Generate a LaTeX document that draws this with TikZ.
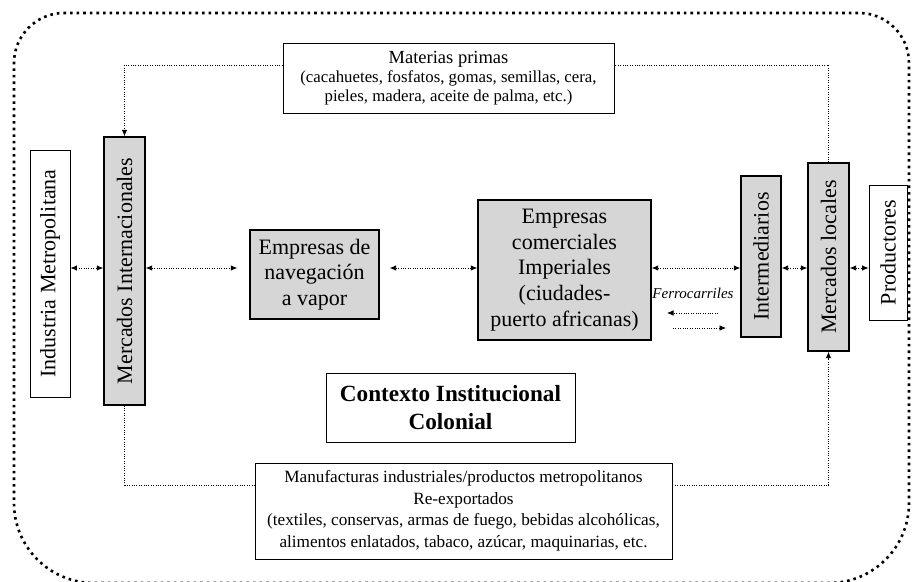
\documentclass[tikz,border=0pt]{standalone}
\usepackage{fontspec}
\setmainfont{Liberation Serif}
\usepackage{graphicx}
\usetikzlibrary{arrows.meta}
\definecolor{boxgray}{RGB}{214,214,214}

\begin{document}
\begin{tikzpicture}[x=1pt,y=-1pt,>={Latex[length=6.5pt,width=5.5pt]},
                    gray node/.style={draw,line width=1.3pt,fill=boxgray,align=center,inner sep=0pt,
                                      font=\fontsize{22}{25.7}\selectfont},
                    white node/.style={draw,line width=0.7pt,fill=white,align=center,inner sep=0pt},
                    flow/.style={line width=0.9pt,dash pattern=on 0.9pt off 1.5pt},
                    frame/.style={line width=2.6pt,dash pattern=on 2.6pt off 4pt}]

  \useasboundingbox (0,0) rectangle (912,581);

  % outer frame
  \draw[frame] (461,583) [rounded corners=80pt] -- (14,583) -- (14,300)
    [rounded corners=50pt] -- (14,13) -- (909,13) -- (909,300)
    [rounded corners=80pt] -- (909,583) -- cycle;

  \node[white node,minimum width=40,minimum height=247,font=\fontsize{22}{26}\selectfont] (indus) at (50,273.5)
    {\rotatebox{90}{Industria Metropolitana}};
  \node[gray node,minimum width=41,minimum height=268] (merint) at (124.5,271)
    {\rotatebox{90}{Mercados Internacionales}};
  \node[gray node,minimum width=129,minimum height=89] (nav) at (314.5,274.5)
    {Empresas de\\navegación\\a vapor};
  \node[gray node,minimum width=173,minimum height=140] (comer) at (564.5,270)
    {Empresas\\comerciales\\Imperiales\\(ciudades-\\puerto africanas)};
  \node[gray node,minimum width=40,minimum height=161] (inter) at (761,256.5)
    {\rotatebox{90}{Intermediarios}};
  \node[gray node,minimum width=41,minimum height=188] (merloc) at (828.5,257)
    {\rotatebox{90}{Mercados locales}};
  \node[white node,minimum width=38,minimum height=135,font=\fontsize{22}{26}\selectfont] (prod) at (888,252.5)
    {\rotatebox{90}{Productores}};

  \node[white node,minimum width=331,minimum height=70,font=\fontsize{16.8}{19}\selectfont] (mat) at (448.5,78)
    {\fontsize{18.5}{20}\selectfont Materias primas\\
     \fontsize{16.8}{18.5}\selectfont (cacahuetes, fosfatos, gomas, semillas, cera,\\
     pieles, madera, aceite de palma, etc.)};
  \node[white node,minimum width=249,minimum height=69,font=\bfseries\fontsize{23.2}{28}\selectfont] (ctx) at (450.5,407.5)
    {Contexto Institucional\\Colonial};
  \node[white node,minimum width=417,minimum height=96,font=\fontsize{17.2}{21.5}\selectfont] (manu) at (463.5,511)
    {Manufacturas industriales/productos metropolitanos\\Re-exportados\\
     (textiles, conservas, armas de fuego, bebidas alcohólicas,\\
     alimentos enlatados, tabaco, azúcar, maquinarias, etc.};

  % main row of flows
  \coordinate (row) at (0,268);
  \draw[flow,<->] (indus.east |- row) -- (merint.west |- row);
  \draw[flow,<->,shorten >=12pt] (merint.east |- row) -- (nav.west |- row);
  \draw[flow,<->,shorten <=10pt] (nav.east |- row) -- (comer.west |- row);
  \draw[flow,<->] (comer.east |- row) -- (inter.west |- row);
  \draw[flow,<->] (inter.east |- row) -- (merloc.west |- row);
  \draw[flow,<->] (merloc.east |- row) -- (prod.west |- row);

  % railways
  \node[font=\fontsize{15}{17}\selectfont\itshape] (ferro) at (693,293) {Ferrocarriles};
  \coordinate (rail a) at (718,313);
  \coordinate (rail b) at (667,313);
  \coordinate (rail c) at (673,328);
  \coordinate (rail d) at (726,328);
  \draw[flow,line width=0.7pt,->] (rail a) -- (rail b);
  \draw[flow,line width=0.7pt,->] (rail c) -- (rail d);

  % raw materials and manufactures
  \draw[flow] (merloc.north) |- ([yshift=13pt]mat.east);
  \draw[flow,->] ([yshift=13pt]mat.west) -| (merint.north);
  \draw[flow] (merint.south) |- ([yshift=26pt]manu.west);
  \draw[flow,->] ([yshift=26pt]manu.east) -| (merloc.south);
\end{tikzpicture}
\end{document}
